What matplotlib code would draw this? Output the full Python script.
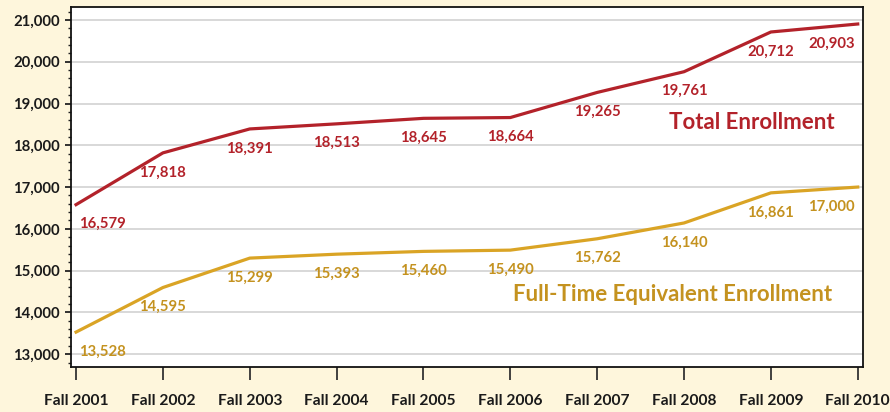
import matplotlib
matplotlib.use("Agg")
import matplotlib.pyplot as plt
from matplotlib.ticker import MultipleLocator, FuncFormatter

categories = ["Fall 2001", "Fall 2002", "Fall 2003", "Fall 2004", "Fall 2005",
              "Fall 2006", "Fall 2007", "Fall 2008", "Fall 2009", "Fall 2010"]
total_enrollment = [16579, 17818, 18391, 18513, 18645, 18664, 19265, 19761, 20712, 20903]
fte_enrollment = [13528, 14595, 15299, 15393, 15460, 15490, 15762, 16140, 16861, 17000]

RED = "#B3222A"
GOLD_LINE = "#DAA425"
GOLD_TEXT = "#C4921F"
BG = "#FEF6DC"
FONT = ["Lato", "DejaVu Sans"]

plt.rcParams["font.family"] = FONT
plt.rcParams["font.weight"] = "bold"

fig = plt.figure(figsize=(8.9, 4.12), dpi=100, facecolor=BG)
ax = fig.add_axes([0.0798, 0.110, 0.8899, 0.873])
ax.set_facecolor("white")

x = list(range(len(categories)))
ax.plot(x, total_enrollment, color=RED, lw=2.3, solid_joinstyle="round", zorder=3)
ax.plot(x, fte_enrollment, color=GOLD_LINE, lw=2.3, solid_joinstyle="round", zorder=3)

def label_series(values, color):
    n = len(values)
    for i, v in enumerate(values):
        if i == 0:
            ha, dx = "left", 2
        elif i == n - 1:
            ha, dx = "right", -2
        else:
            ha, dx = "center", 0
        ax.annotate(f"{v:,}", (i, v), xytext=(dx, -14), textcoords="offset points",
                    ha=ha, va="center", color=color, fontsize=10.7,
                    fontweight="bold", zorder=4)

label_series(total_enrollment, RED)
label_series(fte_enrollment, GOLD_TEXT)

ax.text(8.73, 18555, "Total Enrollment", ha="right", va="center",
        color=RED, fontsize=16, fontweight="bold")
ax.text(8.70, 14428, "Full-Time Equivalent Enrollment", ha="right", va="center",
        color=GOLD_TEXT, fontsize=16, fontweight="bold")

ax.set_xlim(-0.058, 9.061)
ax.set_ylim(12700, 21310)
ax.set_xticks(x)
ax.set_xticklabels(categories)
ax.yaxis.set_major_locator(MultipleLocator(1000))
ax.yaxis.set_minor_locator(MultipleLocator(200))
ax.yaxis.set_major_formatter(FuncFormatter(lambda v, p: f"{int(v):,}"))

ax.grid(axis="y", which="major", color="#D6D6D6", lw=1.3, zorder=0)
ax.set_axisbelow(True)

for s in ax.spines.values():
    s.set_color("#111111")
    s.set_linewidth(1.3)

ax.tick_params(axis="x", direction="out", length=9.5, width=1.3, color="#333333",
               pad=10, labelsize=11.2, labelcolor="#1a1a1a")
ax.tick_params(axis="y", which="major", direction="out", length=4, width=1.3,
               color="#222222", pad=4, labelsize=10.7, labelcolor="#1a1a1a")
ax.tick_params(axis="y", which="minor", direction="out", length=2.5, width=1.0,
               color="#222222")
for lbl in ax.get_xticklabels() + ax.get_yticklabels():
    lbl.set_fontweight("bold")

fig.savefig("out.png", dpi=100, facecolor=BG)
